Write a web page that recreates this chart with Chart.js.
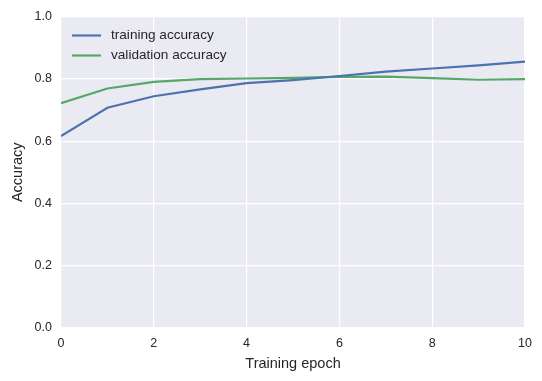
<!DOCTYPE html>
<html>
<head>
<meta charset="utf-8">
<script src="https://cdn.jsdelivr.net/npm/chart.js@4/dist/chart.umd.min.js"></script>
<style>
  html, body { margin: 0; padding: 0; background: #fff; }
  #wrap { width: 542px; height: 381px; }
</style>
</head>
<body>
<div id="wrap"><canvas id="accChart" width="542" height="381"></canvas></div>
<script>
var epochs = [0, 1, 2, 3, 4, 5, 6, 7, 8, 9, 10];
var trainAcc = [0.616, 0.707, 0.744, 0.766, 0.786, 0.796, 0.809, 0.823, 0.833, 0.843, 0.855];
var valAcc = [0.722, 0.769, 0.790, 0.799, 0.801, 0.803, 0.806, 0.807, 0.802, 0.797, 0.799];
var seriesNames = ['training accuracy', 'validation accuracy'];

var FONT = '"Liberation Sans", Arial, sans-serif';

function toPoints(ys) {
    return epochs.map(function (e, i) { return { x: e, y: ys[i] }; });
}

// seaborn-ish grey plot background
var plotBg = {
    id: 'plotBg',
    beforeDraw: function (chart) {
        var a = chart.chartArea, ctx = chart.ctx;
        ctx.save();
        ctx.fillStyle = '#EAEAF2';
        ctx.fillRect(a.left, a.top, a.right - a.left, a.bottom - a.top);
        ctx.restore();
    }
};

// legend drawn inside the plot, top-left, no frame
var innerLegend = {
    id: 'innerLegend',
    afterDatasetsDraw: function (chart) {
        var a = chart.chartArea, ctx = chart.ctx;
        ctx.save();
        ctx.font = '13.6px ' + FONT;
        ctx.textBaseline = 'middle';
        chart.data.datasets.forEach(function (ds, i) {
            var y = a.top + 19 + i * 20;
            ctx.strokeStyle = ds.borderColor;
            ctx.lineWidth = 2.2;
            ctx.beginPath();
            ctx.moveTo(a.left + 11, y);
            ctx.lineTo(a.left + 40, y);
            ctx.stroke();
            ctx.fillStyle = '#262626';
            ctx.fillText(ds.label, a.left + 50, y);
        });
        ctx.restore();
    }
};

new Chart(document.getElementById('accChart'), {
    type: 'line',
    data: {
        datasets: [{
            label: seriesNames[0],
            data: toPoints(trainAcc),
            borderColor: '#4C72B0',
            borderWidth: 2.2,
            pointRadius: 0,
            tension: 0
        }, {
            label: seriesNames[1],
            data: toPoints(valAcc),
            borderColor: '#55A868',
            borderWidth: 2.2,
            pointRadius: 0,
            tension: 0
        }]
    },
    options: {
        responsive: false,
        animation: false,
        layout: { padding: { top: 11, right: 17, left: 0, bottom: 0 } },
        plugins: {
            legend: { display: false },
            tooltip: { enabled: false }
        },
        scales: {
            x: {
                type: 'linear',
                min: 0,
                max: 10,
                ticks: { stepSize: 2, color: '#262626', font: { family: FONT, size: 12.5 }, padding: 8 },
                grid: { color: '#ffffff', lineWidth: 1.2, drawTicks: false },
                border: { display: false },
                title: { display: true, text: 'Training epoch', color: '#262626', font: { family: FONT, size: 14.5 }, padding: { top: 0, bottom: 8 } },
                afterFit: function (s) { s.height = 53; }
            },
            y: {
                min: 0,
                max: 1,
                ticks: {
                    stepSize: 0.2, color: '#262626', font: { family: FONT, size: 12.5 }, padding: 9,
                    callback: function (v) { return v.toFixed(1); }
                },
                grid: { color: '#ffffff', lineWidth: 1.2, drawTicks: false },
                border: { display: false },
                title: { display: true, text: 'Accuracy', color: '#262626', font: { family: FONT, size: 14.5 }, padding: { top: 9, bottom: 4 } },
                afterFit: function (s) { s.width = 61; }
            }
        }
    },
    plugins: [plotBg, innerLegend]
});
</script>
</body>
</html>
